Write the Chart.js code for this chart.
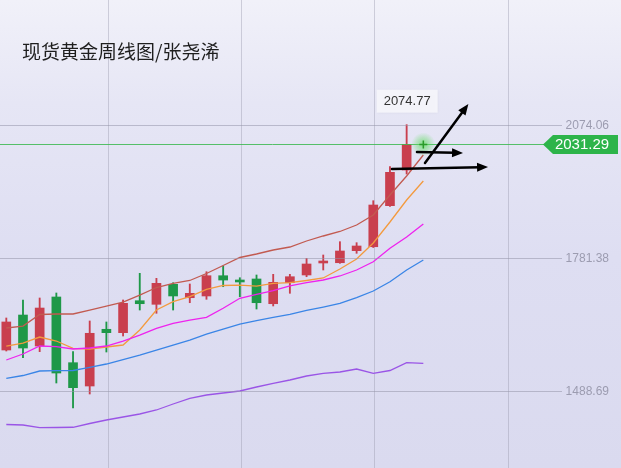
<!DOCTYPE html>
<html>
<head>
<meta charset="utf-8">
<script src="https://cdn.jsdelivr.net/npm/chart.js@4"></script>
<style>
html,body{margin:0;padding:0;}
#wrap{position:relative;width:621px;height:468px;overflow:hidden;
  background:linear-gradient(180deg,#f1f1f9 0%,#e6e6f5 22%,#dedef2 55%,#dadaef 100%);}
#title{position:absolute;left:22px;top:41px;font:19px/20px "Noto Sans CJK SC",sans-serif;color:#1e1e1e;white-space:nowrap;z-index:2;}
canvas{position:absolute;left:0;top:0;}
</style>
</head>
<body>
<div id="wrap">
  <div id="title">现货黄金周线图/张尧浠</div>
  <canvas id="c" width="621" height="468"></canvas>
</div>
<script>
// ---- data (weekly candles) ----
const weeks  = [0,1,2,3,4,5,6,7,8,9,10,11,12,13,14,15,16,17,18,19,20,21,22,23,24];
const opens  = [1578.9,1655.9,1587.7,1695.6,1551.0,1499.7,1624.5,1617.0,1687.4,1679.5,1723.5,1694.0,1697.8,1742.4,1730.8,1735.2,1680.8,1727.0,1744.0,1770.4,1771.0,1797.5,1806.2,1896.5,1975.0];
const highs  = [1649.4,1689.0,1693.4,1704.4,1575.2,1642.8,1640.6,1689.0,1747.7,1736.7,1727.0,1724.2,1751.2,1763.8,1738.0,1744.0,1745.5,1745.5,1780.7,1788.0,1817.3,1815.1,1907.5,1982.3,2074.77];
const lows   = [1576.7,1562.0,1575.2,1506.3,1451.3,1482.1,1574.5,1609.7,1666.9,1659.7,1666.9,1683.0,1690.5,1718.2,1696.2,1669.1,1675.8,1703.7,1740.2,1755.0,1769.7,1791.7,1804.5,1894.7,1966.2];
const closes = [1640.6,1583.3,1671.3,1528.3,1496.0,1615.7,1617.0,1681.7,1680.8,1725.7,1697.8,1703.7,1742.4,1732.9,1728.6,1683.0,1727.9,1740.2,1768.2,1773.3,1796.8,1807.8,1898.0,1969.9,2031.29];
// moving-average lines (one more slot than candles)
const maSlots = [0,1,2,3,4,5,6,7,8,9,10,11,12,13,14,15,16,17,18,19,20,21,22,23,24,25];
const maBrown  = [1627.3,1631.7,1657.1,1658.2,1658.2,1666.9,1675.7,1684.5,1699.9,1716.4,1725.7,1731.9,1747.3,1764.9,1782.5,1790.2,1799.0,1805.6,1818.8,1829.8,1839.7,1854.0,1876.0,1920.0,1961.8,2008.0];
const maOrange = [1587.7,1594.3,1607.5,1598.7,1582.7,1581.1,1585.5,1589.9,1622.9,1666.9,1685.2,1696.2,1712.1,1720.9,1721.9,1719.7,1725.7,1727.0,1731.9,1737.4,1757.2,1779.2,1814.4,1860.6,1909.0,1950.8];
const maPink   = [1556.9,1570.1,1587.7,1586.2,1581.1,1583.3,1587.7,1598.7,1611.9,1626.7,1637.7,1644.9,1650.9,1670.7,1692.7,1701.1,1709.4,1719.8,1727.0,1733.0,1741.8,1755.0,1773.2,1802.7,1827.6,1856.2];
const maBlue   = [1516.6,1522.8,1532.7,1533.4,1533.8,1540.8,1548.1,1558.0,1567.9,1578.9,1589.9,1600.9,1614.1,1625.1,1636.1,1643.8,1650.5,1657.5,1665.9,1673.5,1681.7,1694.4,1708.8,1729.2,1755.0,1777.0];
const maPurple = [1415.0,1413.9,1408.0,1408.4,1408.9,1417.2,1424.9,1431.5,1438.1,1446.9,1460.1,1472.6,1479.9,1484.3,1488.7,1497.5,1505.6,1512.9,1521.7,1527.7,1530.5,1537.1,1527.7,1533.8,1551.0,1549.7];
// axis labels
const priceTicks = [2074.06, 1781.38, 1488.69];
const lastPrice = 2031.29;
const peakPrice = 2074.77;
const peakIndex = 24;
// hand-drawn arrows (index, price)
const arrows = [
  [[25.1,1990.4],[27.7,2120.3]],
  [[24.62,2014.6],[27.38,2012.4]],
  [[23.12,1977.2],[28.88,1981.6]]
];

const UP = '#c93f4e', DOWN = '#1e9848';
const colors = opens.map((o,i)=> closes[i] >= o ? UP : DOWN);

const overlay = {
  id:'overlay',
  afterDatasetsDraw(chart){
    const {ctx, scales:{x,y}} = chart;
    ctx.save();
    // horizontal grid lines + right labels
    ctx.font = '12px "Liberation Sans", Arial, sans-serif';
    ctx.textAlign = 'right'; ctx.textBaseline = 'middle';
    priceTicks.forEach(p=>{
      const py = Math.round(y.getPixelForValue(p))+0.5;
      ctx.strokeStyle = 'rgba(150,150,170,0.55)'; ctx.lineWidth = 1;
      ctx.beginPath(); ctx.moveTo(0,py); ctx.lineTo(562,py); ctx.stroke();
      ctx.fillStyle = '#9c9cb0';
      ctx.fillText(p.toFixed(2), 609, py);
    });
    // last price line
    const ly = Math.round(y.getPixelForValue(lastPrice))+0.5;
    ctx.strokeStyle = 'rgba(60,185,80,0.85)'; ctx.lineWidth = 1;
    ctx.beginPath(); ctx.moveTo(0,ly); ctx.lineTo(545,ly); ctx.stroke();
    // green tag
    ctx.fillStyle = '#2db44a';
    ctx.beginPath();
    ctx.moveTo(543,ly); ctx.lineTo(553,ly-9.5); ctx.lineTo(618,ly-9.5); ctx.lineTo(618,ly+9.5); ctx.lineTo(553,ly+9.5); ctx.closePath(); ctx.fill();
    ctx.fillStyle = '#ffffff'; ctx.font = '15px "Liberation Sans", Arial, sans-serif';
    ctx.textAlign = 'center';
    ctx.fillText(lastPrice.toFixed(2), 582, ly+0.5);
    // peak label
    const px = x.getPixelForValue(peakIndex), py = y.getPixelForValue(peakPrice);
    ctx.fillStyle = 'rgba(244,244,250,0.95)';
    ctx.shadowColor = 'rgba(0,0,0,0.08)'; ctx.shadowBlur = 3;
    ctx.fillRect(px-30, py-35, 61, 23);
    ctx.shadowBlur = 0;
    ctx.fillStyle = '#333'; ctx.font = '13px "Liberation Sans", Arial, sans-serif';
    ctx.fillText(peakPrice.toFixed(2), px+0.5, py-23);
    // cursor glow
    const cx = x.getPixelForValue(25), cy = ly;
    const g = ctx.createRadialGradient(cx,cy,0,cx,cy,12);
    g.addColorStop(0,'rgba(90,220,90,0.75)'); g.addColorStop(1,'rgba(90,220,90,0)');
    ctx.fillStyle = g; ctx.beginPath(); ctx.arc(cx,cy,12,0,Math.PI*2); ctx.fill();
    ctx.strokeStyle = '#2a9a2a'; ctx.lineWidth = 1.5;
    ctx.beginPath(); ctx.moveTo(cx-4,cy); ctx.lineTo(cx+4,cy); ctx.moveTo(cx,cy-4); ctx.lineTo(cx,cy+4); ctx.stroke();
    // arrows
    ctx.strokeStyle = '#000'; ctx.fillStyle = '#000'; ctx.lineWidth = 2.5; ctx.lineCap='round';
    arrows.forEach(a=>{
      const x1 = x.getPixelForValue(a[0][0]), y1 = y.getPixelForValue(a[0][1]);
      const x2 = x.getPixelForValue(a[1][0]), y2 = y.getPixelForValue(a[1][1]);
      const ang = Math.atan2(y2-y1, x2-x1);
      ctx.beginPath(); ctx.moveTo(x1,y1); ctx.lineTo(x2-8*Math.cos(ang), y2-8*Math.sin(ang)); ctx.stroke();
      ctx.beginPath();
      ctx.moveTo(x2,y2);
      ctx.lineTo(x2-11*Math.cos(ang)+4.5*Math.sin(ang), y2-11*Math.sin(ang)-4.5*Math.cos(ang));
      ctx.lineTo(x2-11*Math.cos(ang)-4.5*Math.sin(ang), y2-11*Math.sin(ang)+4.5*Math.cos(ang));
      ctx.closePath(); ctx.fill();
    });
    ctx.restore();
  }
};

const line = (data,color)=>({type:'line', data: maSlots.map((s,i)=>({x:s,y:data[i]})), borderColor:color, borderWidth:1.3, pointRadius:0, tension:0, fill:false, order:1});

new Chart(document.getElementById('c'), {
  type:'bar',
  data:{
    datasets:[
      line(maPurple,'#9a55e6'),
      line(maBlue,'#3a85e6'),
      line(maPink,'#ee22ee'),
      line(maOrange,'#f39a3e'),
      line(maBrown,'#c25a50'),
      {label:'wick', data: weeks.map((w,i)=>({x:w,y:[lows[i],highs[i]]})), backgroundColor:colors, barThickness:1.2, grouped:false, order:3},
      {label:'body', data: weeks.map((w,i)=>({x:w,y:[opens[i],closes[i]]})), backgroundColor:colors, barThickness:9, minBarLength:2, grouped:false, order:2}
    ]
  },
  options:{
    responsive:false, devicePixelRatio:1, animation:false,
    layout:{padding:0},
    plugins:{legend:{display:false}, tooltip:{enabled:false}},
    scales:{
      x:{type:'linear', min:-0.378, max:36.85, offset:false,
         ticks:{display:false}, border:{display:false},
         grid:{offset:false, drawTicks:false, color:'rgba(150,150,170,0.4)', lineWidth:1},
         afterBuildTicks(s){ s.ticks = [6.1,14.1,22.1,30.1].map(v=>({value:v})); }},
      y:{type:'linear', min:1319.26, max:2349.14,
         ticks:{display:false}, border:{display:false},
         grid:{display:false, drawTicks:false}}
    }
  },
  plugins:[overlay]
});
</script>
</body>
</html>
